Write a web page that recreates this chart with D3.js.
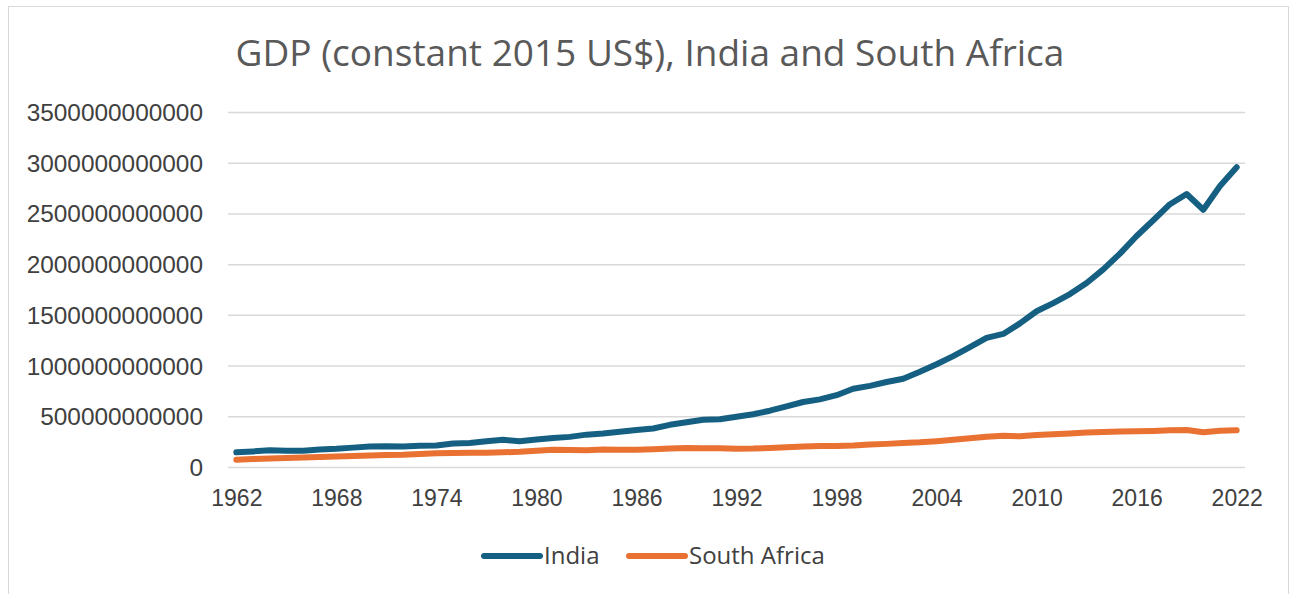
<!DOCTYPE html>
<html>
<head>
<meta charset="utf-8">
<script src="https://cdn.jsdelivr.net/npm/d3@7"></script>
<style>
  html, body { margin: 0; padding: 0; background: #ffffff; }
  svg { display: block; font-family: "Open Sans", "Noto Sans", sans-serif; }
</style>
</head>
<body>
<svg id="chart" width="1294" height="594"></svg>
<script>
// GDP in constant 2015 US$, 1962–2022
const years = d3.range(1962, 2023);

const indiaGDP = [
  145e9, 154e9, 165e9, 161e9, 161e9, 173e9, 179e9, 191e9, 201e9, 204e9,
  203e9, 210e9, 212e9, 232e9, 236e9, 253e9, 268e9, 254e9, 271e9, 287e9,
  297e9, 319e9, 331e9, 348e9, 365e9, 380e9, 416e9, 441e9, 465e9, 470e9,
  496e9, 520e9, 555e9, 597e9, 641e9, 667e9, 708e9, 771e9, 800e9, 838e9,
  870e9, 939e9, 1013e9, 1093e9, 1182e9, 1273e9, 1312e9, 1416e9, 1536e9, 1616e9,
  1705e9, 1814e9, 1948e9, 2104e9, 2278e9, 2433e9, 2591e9, 2692e9, 2536e9, 2770e9,
  2955e9
];

const southAfricaGDP = [
  72e9, 78e9, 84e9, 89e9, 93e9, 99e9, 104e9, 109e9, 114e9, 119e9,
  121e9, 127e9, 135e9, 137e9, 140e9, 140e9, 145e9, 150e9, 160e9, 169e9,
  168e9, 165e9, 173e9, 171e9, 171e9, 175e9, 182e9, 187e9, 186e9, 184e9,
  180e9, 182e9, 188e9, 194e9, 202e9, 207e9, 208e9, 213e9, 222e9, 228e9,
  236e9, 243e9, 255e9, 268e9, 283e9, 298e9, 308e9, 303e9, 315e9, 324e9,
  331e9, 339e9, 344e9, 349e9, 352e9, 356e9, 362e9, 364e9, 342e9, 357e9,
  362e9
];

const seriesNames = ["India", "South Africa"];
const seriesColors = ["#156082", "#E97132"];
const yTicks = [0, 500e9, 1000e9, 1500e9, 2000e9, 2500e9, 3000e9, 3500e9];
const xTickYears = [1962, 1968, 1974, 1980, 1986, 1992, 1998, 2004, 2010, 2016, 2022];

const series = [
  { name: seriesNames[0], color: seriesColors[0], values: indiaGDP },
  { name: seriesNames[1], color: seriesColors[1], values: southAfricaGDP }
];

const svg = d3.select("#chart");
const plot = { left: 228, right: 1245, top: 112, bottom: 467 };

// chart frame
svg.append("rect")
  .attr("x", 8.5).attr("y", 6.5)
  .attr("width", 1280).attr("height", 600)
  .attr("fill", "#ffffff")
  .attr("stroke", "#d9d9d9").attr("stroke-width", 1);

// title
svg.append("text")
  .attr("x", 650).attr("y", 66)
  .attr("text-anchor", "middle")
  .attr("fill", "#595959")
  .style("font-size", "37px")
  .text("GDP (constant 2015 US$), India and South Africa");

const x = d3.scalePoint()
  .domain(years)
  .range([plot.left, plot.right])
  .padding(0.5);

const y = d3.scaleLinear()
  .domain([0, 3500e9])
  .range([plot.bottom, plot.top]);

// horizontal gridlines + y labels
const yAxis = d3.axisLeft(y)
  .tickValues(yTicks)
  .tickSize(-(plot.right - plot.left))
  .tickPadding(25)
  .tickFormat(d3.format("d"));

const gy = svg.append("g")
  .attr("transform", `translate(${plot.left},0)`)
  .call(yAxis);
gy.select(".domain").remove();
gy.selectAll(".tick line")
  .attr("stroke", "#d9d9d9").attr("stroke-width", 1.5);
gy.selectAll(".tick text")
  .attr("fill", "#404040")
  .style("font-size", "24.4px")
  .attr("dy", "0.35em");

// x axis labels
const xAxis = d3.axisBottom(x)
  .tickValues(xTickYears)
  .tickSize(0)
  .tickPadding(23)
  .tickFormat(d3.format("d"));

const gx = svg.append("g")
  .attr("transform", `translate(0,${plot.bottom})`)
  .call(xAxis);
gx.select(".domain").remove();
gx.selectAll(".tick text")
  .attr("fill", "#404040")
  .style("font-size", "23px");

// series lines
const line = d3.line()
  .x((d, i) => x(years[i]))
  .y(d => y(d));

svg.append("g")
  .selectAll("path")
  .data(series.slice().reverse())
  .join("path")
  .attr("d", s => line(s.values))
  .attr("fill", "none")
  .attr("stroke", s => s.color)
  .attr("stroke-width", 6)
  .attr("stroke-linejoin", "round")
  .attr("stroke-linecap", "round");

// legend
const legendItems = [
  { name: seriesNames[0], color: seriesColors[0], x0: 484 },
  { name: seriesNames[1], color: seriesColors[1], x0: 629 }
];
const lg = svg.append("g");
legendItems.forEach(it => {
  lg.append("line")
    .attr("x1", it.x0).attr("x2", it.x0 + 56)
    .attr("y1", 556).attr("y2", 556)
    .attr("stroke", it.color).attr("stroke-width", 6)
    .attr("stroke-linecap", "round");
  lg.append("text")
    .attr("x", it.x0 + 60).attr("y", 556)
    .attr("dy", "0.35em")
    .attr("fill", "#404040")
    .style("font-size", "24px")
    .text(it.name);
});
</script>
</body>
</html>
